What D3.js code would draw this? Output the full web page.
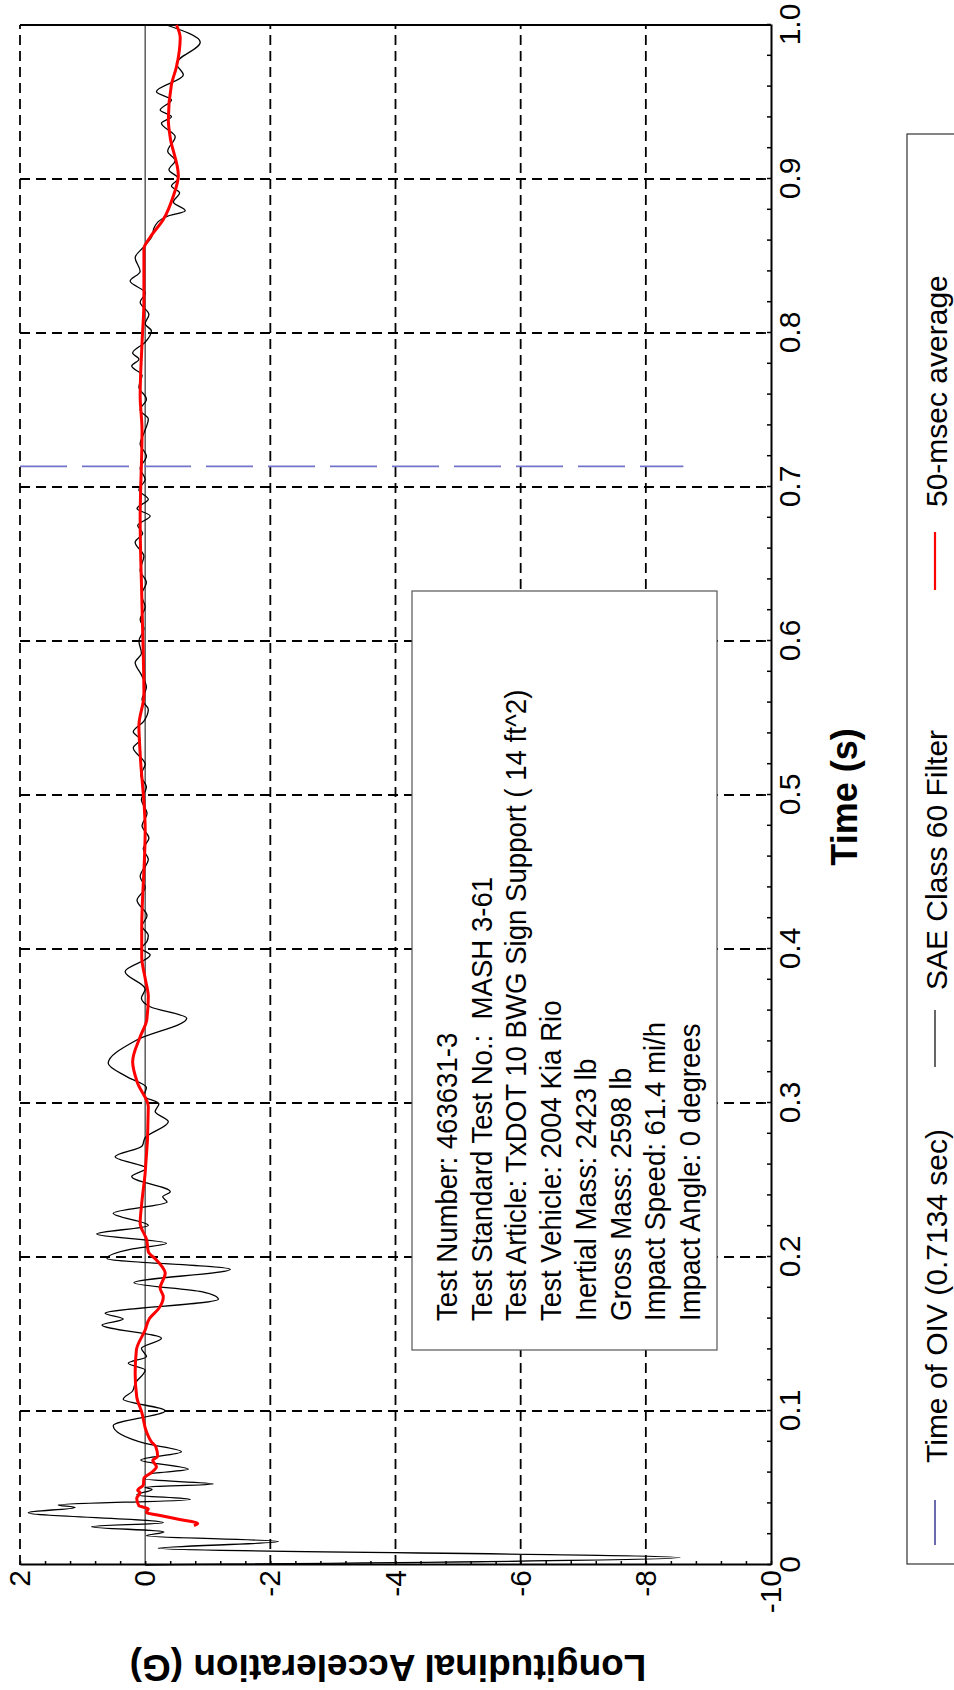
<!DOCTYPE html>
<html>
<head>
<meta charset="utf-8">
<script src="https://cdn.jsdelivr.net/npm/d3@7"></script>
<style>
  html, body { margin: 0; padding: 0; background: #ffffff; }
  svg { display: block; }
  text { font-family: "Liberation Sans", Arial, Helvetica, sans-serif; fill: #000; }
</style>
</head>
<body>
<script>
// ---------------- data ----------------
const timeTickLabels = ["0", "0.1", "0.2", "0.3", "0.4", "0.5", "0.6", "0.7", "0.8", "0.9", "1.0"];
const accelTickLabels = ["-10", "-8", "-6", "-4", "-2", "0", "2"];
const gridTimes = [0.1, 0.2, 0.3, 0.4, 0.5, 0.6, 0.7, 0.8, 0.9];
const gridAccels = [-8, -6, -4, -2, 2];

// SAE Class 60 Filter (time s, acceleration G)
const sae60Time = [0.000, 0.0048, 0.0108, 0.0152, 0.0190, 0.0215, 0.0249, 0.0275, 0.0340, 0.0374,
  0.0390, 0.0426, 0.0455, 0.0491, 0.0505, 0.0526, 0.0558, 0.0590, 0.0621, 0.0682,
  0.0736, 0.0790, 0.0905, 0.1002, 0.1076, 0.1130, 0.1180, 0.1266, 0.1310, 0.1353,
  0.1407, 0.1472, 0.1558, 0.1597, 0.1634, 0.1725, 0.1775, 0.1833, 0.1920, 0.1991,
  0.2050, 0.2089, 0.2149, 0.2205, 0.2284, 0.2357, 0.2391, 0.2424, 0.2522, 0.2576,
  0.2651, 0.2720, 0.2775, 0.2879, 0.2944, 0.2995, 0.3045, 0.3100, 0.3171, 0.3258,
  0.3409, 0.3550, 0.3625, 0.3680, 0.3740, 0.3853, 0.3961, 0.4004, 0.4050, 0.4088,
  0.4150, 0.4216, 0.4316, 0.4400, 0.4470, 0.4583, 0.4650, 0.4720, 0.4800, 0.4880,
  0.4970, 0.5050, 0.5130, 0.5200, 0.5307, 0.5360, 0.5410, 0.5480, 0.5555, 0.5620,
  0.5700, 0.5780, 0.5860, 0.5920, 0.6000, 0.6080, 0.6140, 0.6220, 0.6300, 0.6380,
  0.6460, 0.6550, 0.6641, 0.6700, 0.6750, 0.6812, 0.6860, 0.6920, 0.6980, 0.7050,
  0.7120, 0.7200, 0.7280, 0.7350, 0.7442, 0.7500, 0.7570, 0.7650, 0.7725, 0.7785,
  0.7830, 0.7870, 0.7940, 0.8013, 0.8060, 0.8120, 0.8200, 0.8260, 0.8337, 0.8400,
  0.8489, 0.8560, 0.8620, 0.8690, 0.8756, 0.8794, 0.8850, 0.8910, 0.8955, 0.9003,
  0.9060, 0.9120, 0.9180, 0.9275, 0.9362, 0.9405, 0.9448, 0.9513, 0.9567, 0.9675,
  0.9750, 0.9888, 1.0000];
const sae60Accel = [0.00, -8.55, -0.21, -2.13, -0.02, -0.30, 0.855, -0.29, 1.867, 1.12,
  1.39, -0.72, 0.135, -0.11, 0.00, -1.09, 0.00, -0.05, -0.69, 0.07,
  -0.58, 0.00, 0.51, -0.32, 0.35, 0.20, 0.16, 0.00, 0.27, -0.02,
  0.06, -0.26, 0.69, 0.35, 0.64, -1.17, -0.90, 0.18, -1.36, 0.61,
  0.24, -0.34, 0.775, -0.05, 0.51, -0.35, -0.28, -0.40, 0.215, -0.02,
  0.48, 0.05, 0.00, -0.37, -0.16, -0.22, 0.02, -0.02, 0.295, 0.59,
  0.135, -0.664, -0.08, 0.06, 0.00, 0.32, -0.08, 0.06, -0.03, -0.05,
  0.05, -0.03, 0.13, 0.00, 0.08, -0.05, 0.03, -0.06, 0.05, -0.03,
  0.06, -0.02, 0.07, 0.00, 0.19, 0.08, 0.19, 0.02, -0.05, 0.05,
  -0.02, 0.06, 0.16, 0.06, 0.10, 0.02, 0.08, 0.00, 0.06, -0.02,
  0.08, 0.02, 0.16, 0.04, 0.12, -0.08, 0.13, -0.05, 0.10, 0.00,
  0.08, -0.02, 0.08, 0.02, -0.05, 0.08, -0.02, 0.10, 0.05, 0.215,
  0.10, 0.20, 0.00, -0.10, 0.00, -0.06, 0.08, 0.00, 0.24, 0.08,
  0.16, 0.02, -0.10, -0.15, -0.34, -0.64, -0.45, -0.55, -0.42, -0.53,
  -0.38, -0.48, -0.36, -0.48, -0.26, -0.42, -0.24, -0.42, -0.18, -0.61,
  -0.50, -0.88, -0.34];

// 50-msec average
const avgTime = [0.0255, 0.0270, 0.0295, 0.0325, 0.0340, 0.0365, 0.0385, 0.0433, 0.0470, 0.0485,
  0.0520, 0.0563, 0.0600, 0.0638, 0.0680, 0.0705, 0.0768, 0.0800, 0.0866, 0.0985,
  0.1093, 0.1244, 0.1396, 0.1526, 0.1602, 0.1667, 0.1742, 0.1797, 0.1894, 0.1981,
  0.2035, 0.2110, 0.2219, 0.2348, 0.2545, 0.2976, 0.3128, 0.3268, 0.3430, 0.3539,
  0.3690, 0.3810, 0.3950, 0.4123, 0.4773, 0.5268, 0.5450, 0.5649, 0.6224, 0.6794,
  0.7366, 0.7594, 0.7937, 0.8204, 0.8546, 0.8622, 0.8737, 0.8890, 0.9023, 0.9270,
  0.9384, 0.9613, 0.9728, 0.9918, 1.0000];
const avgAccel = [-0.78, -0.84, -0.55, -0.20, -0.02, -0.05, 0.10, 0.135, 0.08, 0.12,
  0.03, 0.02, -0.10, -0.18, -0.12, -0.20, -0.17, -0.10, -0.02, 0.05,
  0.135, 0.16, 0.14, 0.00, -0.07, -0.22, -0.29, -0.24, -0.32, -0.18,
  -0.05, -0.025, 0.08, 0.055, 0.00, -0.05, 0.12, 0.20, 0.08, -0.025,
  -0.05, 0.00, 0.055, 0.055, 0.00, 0.08, 0.10, 0.02, 0.05, 0.08,
  0.05, 0.08, 0.05, 0.02, 0.02, -0.08, -0.29, -0.45, -0.53, -0.40,
  -0.37, -0.42, -0.50, -0.56, -0.50];

// Time of OIV marker
const oivTime = 0.7134;
const oivAccelRange = [2, -8.6];

const legendLabels = ["Time of OIV (0.7134 sec)", "SAE Class 60 Filter", "50-msec average"];
const infoLines = [
  "Test Number: 463631-3",
  "Test Standard Test No.:  MASH 3-61",
  "Test Article: TxDOT 10 BWG Sign Support ( 14 ft^2)",
  "Test Vehicle: 2004 Kia Rio",
  "Inertial Mass: 2423 lb",
  "Gross Mass: 2598 lb",
  "Impact Speed: 61.4 mi/h",
  "Impact Angle: 0 degrees"
];

// ---------------- drawing ----------------
const PAGE_W = 954, PAGE_H = 1690;
const svg = d3.select("body").append("svg")
  .attr("width", PAGE_W).attr("height", PAGE_H);

// Whole chart is drawn in landscape and rotated 90° counter-clockwise.
const g = svg.append("g").attr("transform", `translate(0,${PAGE_H}) rotate(-90)`);

const X0 = 125, X1 = 1665, Y0 = 20, Y1 = 771;
const x = d3.scaleLinear().domain([0, 1]).range([X0, X1]);
const y = d3.scaleLinear().domain([-10, 2]).range([Y1, Y0]);

// grid
g.append("g").selectAll("line").data(gridTimes).join("line")
  .attr("x1", d => x(d)).attr("x2", d => x(d))
  .attr("y1", Y0).attr("y2", Y1)
  .attr("stroke", "#000").attr("stroke-width", 1.8).attr("stroke-dasharray", "10,6");
g.append("g").selectAll("line").data(gridAccels).join("line")
  .attr("x1", X0).attr("x2", X1)
  .attr("y1", d => y(d)).attr("y2", d => y(d))
  .attr("stroke", "#000").attr("stroke-width", 1.8).attr("stroke-dasharray", "10,6");

// zero line
g.append("line")
  .attr("x1", X0).attr("x2", X1).attr("y1", y(0)).attr("y2", y(0))
  .attr("stroke", "#444").attr("stroke-width", 1.3);

// right frame (t = 1.0)
g.append("line")
  .attr("x1", x(1)).attr("x2", x(1)).attr("y1", Y0).attr("y2", Y1)
  .attr("stroke", "#000").attr("stroke-width", 2);

// OIV marker
g.append("line")
  .attr("x1", x(oivTime)).attr("x2", x(oivTime))
  .attr("y1", y(oivAccelRange[0])).attr("y2", y(oivAccelRange[1]))
  .attr("stroke", "#7373c9").attr("stroke-width", 1.8).attr("stroke-dasharray", "47,15");

// series
const line = d3.line().x(d => x(d[0])).y(d => y(d[1])).curve(d3.curveMonotoneX);
g.append("path")
  .datum(sae60Time.map((t, i) => [t, sae60Accel[i]]))
  .attr("d", line).attr("fill", "none").attr("stroke", "#000").attr("stroke-width", 1.3);
g.append("path")
  .datum(avgTime.map((t, i) => [t, avgAccel[i]]))
  .attr("d", line).attr("fill", "none").attr("stroke", "#ff0000").attr("stroke-width", 3);

// axes
const tTicks = d3.range(0, 51).map(i => i / 50);
const xAxis = d3.axisBottom(x).tickValues(tTicks).tickSize(-4).tickSizeOuter(0).tickPadding(8)
  .tickFormat((d, i) => (i % 5 === 0 ? timeTickLabels[i / 5] : ""));
const gTicks = d3.range(0, 31).map(i => -10 + i * 0.4);
const yAxis = d3.axisLeft(y).tickValues(gTicks).tickSize(-4).tickSizeOuter(0).tickPadding(5)
  .tickFormat((d, i) => (i % 5 === 0 ? accelTickLabels[i / 5] : ""));

const gx = g.append("g").attr("transform", `translate(0,${Y1})`).call(xAxis);
const gy = g.append("g").attr("transform", `translate(${X0},0)`).call(yAxis);
[gx, gy].forEach(a => {
  a.select(".domain").attr("stroke", "#000").attr("stroke-width", 2);
  a.selectAll(".tick line").attr("stroke", "#000").attr("stroke-width", 1.5);
  a.selectAll(".tick text").style("font-size", "30px").style("font-family", '"Liberation Sans", Arial, sans-serif').attr("fill", "#000");
});

// axis titles
g.append("text")
  .attr("x", (X0 + X1) / 2 - 2).attr("y", 857)
  .attr("text-anchor", "middle")
  .style("font-size", "36px").style("font-weight", "bold")
  .text("Time (s)");
g.append("text")
  .attr("transform", `translate(35,388) rotate(-90)`)
  .attr("text-anchor", "middle")
  .style("font-size", "37px").style("font-weight", "bold")
  .text("Longitudinal Acceleration (G)");

// info box
const info = g.append("g");
info.append("rect")
  .attr("x", 340).attr("y", 412).attr("width", 1099 - 340).attr("height", 717 - 412)
  .attr("fill", "#fff").attr("stroke", "#555").attr("stroke-width", 1.2);
info.selectAll("text").data(infoLines).join("text")
  .attr("transform", (d, i) => `translate(369,${457 + i * 34.7}) scale(0.92,1)`)
  .attr("xml:space", "preserve").style("white-space", "pre")
  .style("font-size", "30px")
  .text(d => d);

// legend
const leg = g.append("g");
leg.append("rect")
  .attr("x", 126).attr("y", 907).attr("width", 1556 - 126).attr("height", 120)
  .attr("fill", "#fff").attr("stroke", "#333").attr("stroke-width", 1.2);
const legendItems = [
  { x1: 145, x2: 190, tx: 227, color: "#1a1a80", w: 1.3 },
  { x1: 623, x2: 680, tx: 700, color: "#000", w: 1.2 },
  { x1: 1100, x2: 1158, tx: 1183, color: "#ff0000", w: 2.2 }
];
legendItems.forEach((it, i) => {
  leg.append("line").attr("x1", it.x1).attr("x2", it.x2).attr("y1", 935).attr("y2", 935)
    .attr("stroke", it.color).attr("stroke-width", it.w);
  leg.append("text").attr("x", it.tx).attr("y", 947)
    .style("font-size", "30px").text(legendLabels[i]);
});
</script>
</body>
</html>
